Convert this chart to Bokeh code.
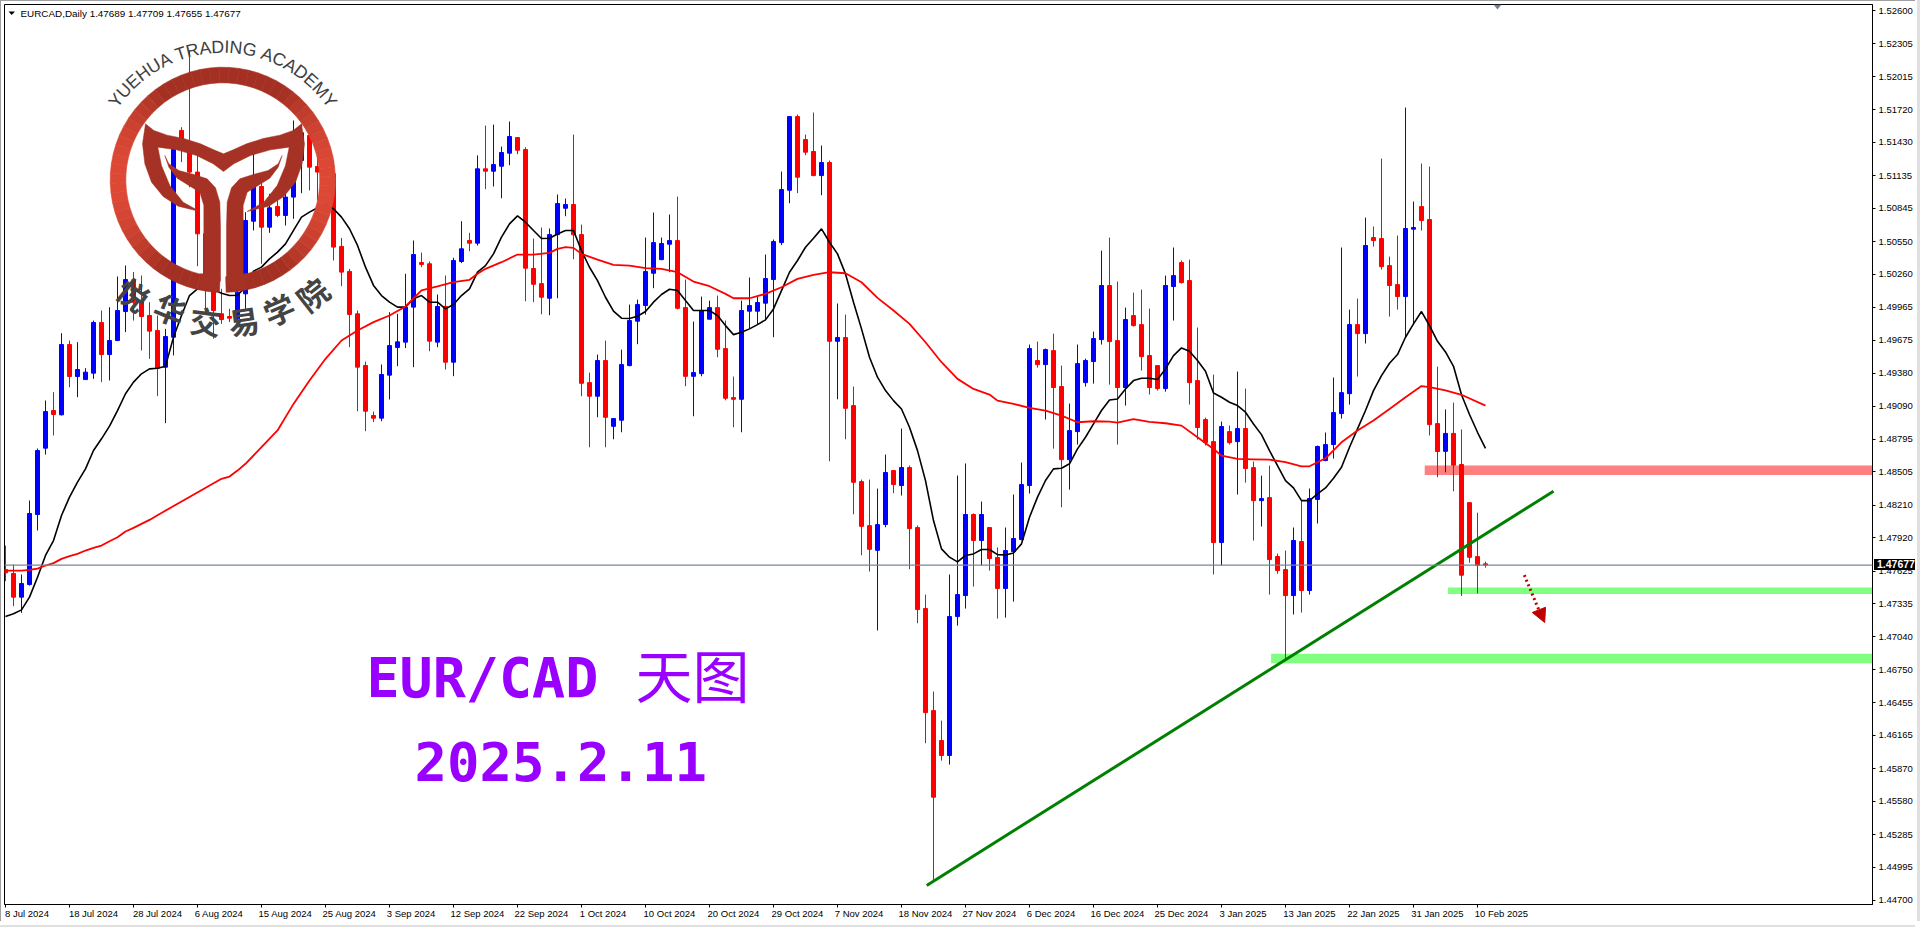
import math
from bokeh.plotting import figure
from bokeh.layouts import column
from bokeh.models import Range1d, FixedTicker, NumeralTickFormatter, Span, ColumnDataSource, Div
from bokeh.core.properties import value
from bokeh.embed import file_html
from bokeh.resources import INLINE

opens = [1.47638,1.47603,1.47393,1.47505,1.48127,1.48716,1.49050,1.49012,1.49636,1.49352,
1.49325,1.49382,1.49832,1.49547,1.49672,1.49929,1.50210,1.50012,1.49894,1.49761,
1.49435,1.49701,1.51537,1.51353,1.51167,1.50619,1.50122,1.49909,1.49885,1.49864,
1.50086,1.50731,1.51039,1.50678,1.50862,1.50782,1.50945,1.51270,1.51492,1.51217,
1.51167,1.51152,1.50507,1.50285,1.49909,1.49450,1.49006,1.48982,1.49364,1.49610,
1.49657,1.49968,1.50364,1.50353,1.49657,1.49974,1.49479,1.50373,1.50560,1.50536,
1.51196,1.51175,1.51219,1.51335,1.51474,1.51367,1.50311,1.50177,1.50047,1.50612,
1.50846,1.50879,1.50612,1.49298,1.49177,1.49494,1.48910,1.48964,1.49449,1.49843,
1.49982,1.50269,1.50390,1.50527,1.50559,1.49964,1.49354,1.49378,1.49861,1.49964,
1.49600,1.49165,1.49150,1.49932,1.49932,1.50003,1.50213,1.50541,1.51006,1.51660,
1.51456,1.51350,1.51136,1.51252,1.49665,1.49698,1.49094,1.48419,1.48028,1.47809,
1.48038,1.48517,1.48384,1.48544,1.48011,1.47292,1.46386,1.46120,1.45987,1.47221,
1.47407,1.48127,1.47896,1.48011,1.47745,1.47470,1.47798,1.47905,1.48384,1.49494,
1.49458,1.49582,1.49263,1.48614,1.48863,1.49298,1.49485,1.49680,1.50160,1.49671,
1.49254,1.49893,1.49813,1.49538,1.49449,1.49245,1.50151,1.50364,1.50204,1.49316,
1.48970,1.48774,1.47878,1.48863,1.48774,1.48890,1.48543,1.48250,1.48277,1.47754,
1.47638,1.47407,1.47887,1.47452,1.48260,1.48606,1.48748,1.49023,1.49200,1.49813,
1.49733,1.50586,1.50577,1.50337,1.50168,1.50062,1.50660,1.50861,1.50746,1.48934,
1.48688,1.48847,1.48571,1.48232,1.47753,1.47689]

closes = [1.47609,1.47393,1.47514,1.48136,1.48695,1.49041,1.49015,1.49636,1.49352,1.49414,
1.49391,1.49832,1.49547,1.49672,1.49938,1.50213,1.50012,1.49885,1.49755,1.49426,
1.49707,1.51368,1.51433,1.51167,1.50619,1.50122,1.49938,1.49858,1.49870,1.50101,
1.50737,1.51039,1.50678,1.50850,1.50782,1.50945,1.51270,1.51516,1.51211,1.51167,
1.51137,1.50501,1.50279,1.49903,1.49435,1.49044,1.48982,1.49370,1.49627,1.49660,
1.49968,1.50435,1.50347,1.49666,1.49974,1.49479,1.50382,1.50486,1.50536,1.51196,
1.51175,1.51234,1.51341,1.51483,1.51361,1.50314,1.50171,1.50056,1.50612,1.50888,
1.50879,1.50610,1.49292,1.49177,1.49494,1.48990,1.48979,1.49458,1.49849,1.49991,
1.50284,1.50541,1.50533,1.50559,1.49958,1.49354,1.49387,1.49938,1.49964,1.49594,
1.49159,1.49150,1.49938,1.49982,1.50009,1.50222,1.50550,1.51012,1.51660,1.51122,
1.51344,1.51136,1.51252,1.49665,1.49698,1.49070,1.48413,1.48022,1.47818,1.48037,
1.48500,1.48393,1.48544,1.48002,1.47283,1.46368,1.45617,1.45987,1.47221,1.47416,
1.48127,1.47896,1.48127,1.47736,1.47470,1.47807,1.47914,1.48393,1.49600,1.49458,
1.49591,1.49254,1.48614,1.48872,1.49467,1.49494,1.49689,1.50160,1.49662,1.49254,
1.49858,1.49804,1.49529,1.49254,1.49245,1.50160,1.50248,1.50186,1.49298,1.48899,
1.48765,1.47878,1.48908,1.48765,1.48890,1.48535,1.48250,1.48268,1.47727,1.47629,
1.47407,1.47896,1.47452,1.48269,1.48731,1.48748,1.49032,1.49209,1.49813,1.49733,
1.50515,1.50559,1.50328,1.50160,1.50062,1.50666,1.50675,1.50737,1.48925,1.48686,
1.48847,1.48565,1.47588,1.47747,1.47674,1.47677]

highs = [1.47851,1.47683,1.47594,1.48251,1.48713,1.49139,1.49213,1.49737,1.49672,1.49657,
1.49426,1.49849,1.49938,1.49968,1.50240,1.50338,1.50279,1.50249,1.50012,1.49894,
1.49775,1.51389,1.51566,1.52247,1.51329,1.50767,1.50175,1.50131,1.49953,1.50145,
1.50811,1.51344,1.51078,1.50974,1.50915,1.51196,1.51625,1.51590,1.51507,1.51300,
1.51241,1.51270,1.50583,1.50308,1.49938,1.49485,1.49041,1.49459,1.49923,1.49909,
1.50264,1.50560,1.50453,1.50373,1.50080,1.50249,1.50406,1.50731,1.50628,1.51315,
1.51580,1.51589,1.51394,1.51616,1.51474,1.51388,1.50577,1.50675,1.50666,1.50968,
1.50932,1.51500,1.50701,1.49387,1.49547,1.49671,1.48979,1.49591,1.49991,1.50035,
1.50586,1.50808,1.50586,1.50790,1.50950,1.50213,1.49840,1.50062,1.50026,1.50071,
1.49849,1.49352,1.50026,1.50231,1.50071,1.50435,1.50568,1.51172,1.51660,1.51678,
1.51500,1.51696,1.51403,1.51270,1.50000,1.49902,1.49263,1.48437,1.48437,1.48357,
1.48659,1.48517,1.48890,1.48562,1.48029,1.47416,1.46555,1.46297,1.47594,1.48473,
1.48580,1.48136,1.48242,1.48011,1.47834,1.48011,1.48304,1.48588,1.49636,1.49662,
1.49600,1.49733,1.49449,1.49112,1.49636,1.49511,1.49751,1.50470,1.50586,1.50195,
1.49964,1.50097,1.50124,1.49955,1.49449,1.50248,1.50497,1.50382,1.50390,1.49787,
1.48987,1.49369,1.48952,1.48917,1.49396,1.49245,1.48597,1.48472,1.48561,1.47780,
1.47807,1.48011,1.48251,1.48358,1.48739,1.48855,1.49343,1.50497,1.49946,1.50044,
1.50763,1.50684,1.51287,1.50417,1.50604,1.51740,1.50906,1.51243,1.51216,1.49440,
1.49060,1.49120,1.48882,1.48232,1.48143,1.47709]

lows = [1.47535,1.47313,1.47253,1.47496,1.47985,1.48659,1.48828,1.49006,1.49257,1.49169,
1.49325,1.49331,1.49302,1.49317,1.49666,1.49746,1.49849,1.49583,1.49509,1.49178,
1.48938,1.49539,1.51255,1.51033,1.50332,1.49953,1.49687,1.49820,1.49835,1.49849,
1.49953,1.50649,1.50353,1.50628,1.50767,1.50693,1.50752,1.50980,1.51004,1.50915,
1.50945,1.50382,1.50154,1.49613,1.49044,1.48867,1.48947,1.48955,1.49148,1.49444,
1.49604,1.49435,1.50323,1.49577,1.49613,1.49414,1.49355,1.50359,1.50465,1.50515,
1.51015,1.51039,1.50935,1.51228,1.51326,1.50020,1.50012,1.49905,1.49896,1.50047,
1.50775,1.50393,1.49177,1.48724,1.48990,1.48724,1.48795,1.48857,1.49443,1.49639,
1.49902,1.50136,1.50385,1.50278,1.49949,1.49266,1.48999,1.49354,1.49858,1.49523,
1.49141,1.48902,1.48857,1.49781,1.49816,1.49852,1.49701,1.50518,1.50891,1.50980,
1.51317,1.51130,1.50962,1.48600,1.49150,1.48795,1.48129,1.47765,1.47620,1.47097,
1.48014,1.48316,1.48295,1.47641,1.47162,1.46096,1.44877,1.45942,1.45907,1.47141,
1.47292,1.47487,1.47674,1.47629,1.47203,1.47212,1.47354,1.47896,1.48313,1.49431,
1.48970,1.48712,1.48191,1.48348,1.48748,1.49263,1.49289,1.49636,1.49280,1.48748,
1.49094,1.49796,1.49405,1.49192,1.49227,1.49218,1.49849,1.50177,1.49103,1.48792,
1.48739,1.47594,1.47674,1.48748,1.48304,1.48410,1.47895,1.48020,1.47416,1.47600,
1.46845,1.47239,1.47256,1.47416,1.48047,1.48600,1.48623,1.48979,1.49103,1.49352,
1.49645,1.50506,1.50302,1.49884,1.49946,1.49701,1.49819,1.50648,1.48828,1.48458,
1.48501,1.48333,1.47404,1.47699,1.47426,1.47655]

ma_black = [1.47221,1.47245,1.47280,1.47393,1.47570,1.47763,1.47896,1.48118,1.48281,1.48414,
1.48532,1.48695,1.48799,1.48912,1.49050,1.49199,1.49302,1.49376,1.49420,1.49426,
1.49444,1.49701,1.49894,1.50071,1.50131,1.50125,1.50122,1.50092,1.50071,1.50074,
1.50145,1.50287,1.50323,1.50397,1.50456,1.50530,1.50649,1.50767,1.50812,1.50850,
1.50886,1.50841,1.50767,1.50664,1.50516,1.50323,1.50161,1.50071,1.50012,1.49968,
1.49968,1.50042,1.50071,1.50012,1.50012,1.49953,1.49991,1.50071,1.50131,1.50279,
1.50337,1.50441,1.50589,1.50707,1.50778,1.50722,1.50648,1.50577,1.50580,1.50618,
1.50648,1.50648,1.50470,1.50322,1.50204,1.50056,1.49932,1.49870,1.49867,1.49887,
1.49929,1.50012,1.50080,1.50127,1.50115,1.50026,1.49938,1.49938,1.49938,1.49893,
1.49804,1.49724,1.49745,1.49775,1.49813,1.49855,1.49952,1.50115,1.50278,1.50382,
1.50500,1.50580,1.50663,1.50544,1.50441,1.50263,1.50012,1.49775,1.49523,1.49346,
1.49227,1.49138,1.49064,1.48902,1.48694,1.48428,1.48073,1.47822,1.47748,1.47706,
1.47763,1.47777,1.47816,1.47816,1.47771,1.47768,1.47786,1.47866,1.48103,1.48281,
1.48429,1.48532,1.48538,1.48577,1.48710,1.48813,1.48932,1.49050,1.49144,1.49153,
1.49242,1.49316,1.49337,1.49337,1.49325,1.49420,1.49538,1.49606,1.49576,1.49494,
1.49399,1.49206,1.49168,1.49124,1.49094,1.49035,1.48931,1.48836,1.48694,1.48561,
1.48428,1.48363,1.48250,1.48250,1.48310,1.48363,1.48449,1.48546,1.48724,1.48887,
1.49050,1.49227,1.49360,1.49470,1.49547,1.49701,1.49819,1.49929,1.49804,1.49665,
1.49570,1.49443,1.49190,1.49015,1.48857,1.48714]

ma_red_bar = [0,2,3,4,5,6,7,8,9,10,11,12,13,14,15,16,17,18,19,27,28,29,30,32,34,36,38,40,42,44,46,48,50,52,54,56,58,59,
60,62,64,66,68,69,70,71,72,74,76,78,80,82,84,86,88,90,91,93,95,97,99,101,103,105,107,109,111,113,115,117,119,
121,123,124,126,128,130,132,134,136,138,139,141,143,145,147,149,151,152,154,156,158,160,162,163,165,167,169,171,173,175,177,178,180,182,185]
ma_red = [1.47629,1.47629,1.47635,1.47647,1.47674,1.47695,1.47733,1.47757,1.47777,1.47807,1.47831,1.47851,1.47890,1.47925,1.47976,1.48008,1.48044,1.48079,1.48121,
1.48444,1.48464,1.48517,1.48577,1.48725,1.48873,1.49109,1.49317,1.49509,1.49672,1.49761,1.49835,1.49894,1.49974,1.50116,1.50152,1.50190,1.50211,1.50264,
1.50308,1.50367,1.50435,1.50435,1.50450,1.50485,1.50500,1.50494,1.50441,1.50390,1.50343,1.50337,1.50314,1.50308,1.50278,1.50195,1.50154,1.50086,1.50047,1.50047,1.50086,1.50145,1.50219,1.50255,1.50278,1.50269,1.50189,1.50050,1.49938,1.49819,1.49656,1.49479,1.49331,
1.49242,1.49192,1.49138,1.49109,1.49073,1.49050,1.49005,1.48946,1.48955,1.48952,1.48943,1.48973,1.48949,1.48937,1.48916,1.48813,1.48709,1.48650,1.48620,1.48617,1.48614,1.48591,1.48555,1.48555,1.48626,1.48768,1.48872,1.48961,1.49064,1.49168,1.49267,1.49257,1.49228,1.49190,1.49094]

price_ticks = [1.52600,1.52305,1.52015,1.51720,1.51430,1.51135,1.50845,1.50550,1.50260,1.49965,1.49675,1.49380,1.49090,1.48795,
1.48505,1.48210,1.47920,1.47625,1.47335,1.47040,1.46750,1.46455,1.46165,1.45870,1.45580,1.45285,1.44995,1.44700]
date_labels = ["8 Jul 2024","18 Jul 2024","28 Jul 2024","6 Aug 2024","15 Aug 2024","25 Aug 2024","3 Sep 2024","12 Sep 2024",
"22 Sep 2024","1 Oct 2024","10 Oct 2024","20 Oct 2024","29 Oct 2024","7 Nov 2024","18 Nov 2024","27 Nov 2024","6 Dec 2024",
"16 Dec 2024","25 Dec 2024","3 Jan 2025","13 Jan 2025","22 Jan 2025","31 Jan 2025","10 Feb 2025"]
date_bars = [8*k for k in range(len(date_labels))]

last_price = 1.47677
resistance_zone = dict(left=177.4, right=233.4, bottom=1.48477, top=1.48562)
support_zones = [dict(left=180.3, right=233.4, bottom=1.47421, top=1.47478),
                 dict(left=158.2, right=233.4, bottom=1.46807, top=1.46890)]
trend_bars, trend_prices = [115.15, 193.5], [1.44833, 1.48334]
arrow_bars, arrow_prices = [189.85, 191.8], [1.47589, 1.47257]
arrow_head_bars, arrow_head_prices = [192.4, 190.85, 192.5], [1.47168, 1.47257, 1.47303]

X_PER_BAR, X0 = 8.0, 5.0
Y_PER_UNIT, Y_TOP, P_TOP = 11263.0, 10.2, 1.526
def dx(px): return (px - X0) / X_PER_BAR
def dy(py): return P_TOP - (py - Y_TOP) / Y_PER_UNIT

p = figure(frame_width=1868, frame_height=900, output_backend="svg", toolbar_location=None,
           x_range=Range1d(dx(4), dx(1872)), y_range=Range1d(dy(904), dy(4)),
           y_axis_location="right", min_border_left=4, min_border_top=4, min_border_right=0, min_border_bottom=0,
           background_fill_color="white", border_fill_color="white")
p.grid.visible = False
p.outline_line_color = "black"

# axes
yaxis = p.yaxis[0]
yaxis.ticker = FixedTicker(ticks=price_ticks)
yaxis.formatter = NumeralTickFormatter(format="0.00000")
yaxis.major_label_text_font = "Liberation Sans"
yaxis.major_label_text_font_size = "9.5px"
yaxis.major_label_text_color = "black"
yaxis.major_tick_in = 0
yaxis.major_tick_out = 3
yaxis.major_label_standoff = 3
yaxis.minor_tick_line_color = None
yaxis.axis_line_color = "black"

xaxis = p.xaxis[0]
shifted, overrides = [], {}
for b, lab in zip(date_bars, date_labels):
    half = len(lab) * 4.9 / 2
    pos = round(b + (half - 3) / X_PER_BAR, 3)
    shifted.append(pos)
    overrides[pos] = lab
xaxis.ticker = FixedTicker(ticks=shifted, minor_ticks=date_bars)
xaxis.major_label_overrides = overrides
xaxis.major_tick_line_color = None
xaxis.major_tick_in = 0
xaxis.major_tick_out = 0
xaxis.minor_tick_in = 0
xaxis.minor_tick_out = 3
xaxis.minor_tick_line_color = "black"
xaxis.major_label_standoff = 0
xaxis.major_label_text_font = "Liberation Sans"
xaxis.major_label_text_font_size = "9.5px"
xaxis.major_label_text_color = "black"
xaxis.axis_line_color = "black"

# zones
for z, col in [(resistance_zone, "#FF8080"), (support_zones[0], "#80FF80"), (support_zones[1], "#80FF80")]:
    p.quad(left=[z["left"]], right=[z["right"]], bottom=[z["bottom"]], top=[z["top"]], fill_color=col, line_color=None)

p.add_layout(Span(location=last_price, dimension="width", line_color="#778899", line_width=1.2))

# candles
bars = list(range(len(opens)))
colors = ["#0000FF" if c > o else "#FF0000" for o, c in zip(opens, closes)]
src = ColumnDataSource(dict(x=bars, o=opens, c=closes, h=highs, l=lows, col=colors,
                            t=[max(a, b) for a, b in zip(opens, closes)],
                            b=[min(a, b) for a, b in zip(opens, closes)]))
p.segment(x0="x", y0="l", x1="x", y1="h", line_color="col", line_width=1, source=src)
p.vbar(x="x", width=4 / X_PER_BAR, top="t", bottom="b", fill_color="col", line_color="col", line_width=1, source=src)

# moving averages, trend line, arrow
p.line(bars, ma_black, line_color="black", line_width=1.6)
p.line(ma_red_bar, ma_red, line_color="#FF0000", line_width=1.8)
p.line(trend_bars, trend_prices, line_color="#008000", line_width=3)
p.line(arrow_bars, arrow_prices, line_color="#C00000", line_width=3, line_dash="2 3")
p.patch(arrow_head_bars, arrow_head_prices, fill_color="#C00000", line_color="#C00000")

# chart caption
p.text([dx(366)], [dy(677)], text=["EUR/CAD"], text_font=value("DejaVu Sans Mono"), text_font_style="bold",
       text_font_size="55px", text_color="#9900FF", text_baseline="middle")
p.text([dx(635)], [dy(672)], text=["天图"], text_font=value("Noto Sans CJK SC"),
       text_font_size="57px", text_color="#9900FF", text_baseline="middle")
p.text([dx(414)], [dy(761)], text=["2025.2.11"], text_font=value("DejaVu Sans Mono"), text_font_style="bold",
       text_font_size="54px", text_color="#9900FF", text_baseline="middle")

# header
p.text([dx(20)], [dy(12.7)], text=["EURCAD,Daily  1.47689 1.47709 1.47655 1.47677"], text_font=value("Liberation Sans"),
       text_font_size="9.9px", text_color="black", text_baseline="middle")
p.patch([dx(8), dx(14.5), dx(11.2)], [dy(11), dy(11), dy(14.5)], fill_color="black", line_color=None)
p.patch([dx(1493), dx(1501), dx(1497)], [dy(4), dy(4), dy(9)], fill_color="#708090", line_color=None)

# logo
CX, CY, R_OUT, R_IN = 222.3, 179.3, 112.6, 97.0
def lerp_col(t):
    a, b = (0xA3, 0x30, 0x22), (0xDE, 0x49, 0x36)
    return "#%02x%02x%02x" % tuple(int(a[i] + (b[i] - a[i]) * t) for i in range(3))
deg = -90 + 1.7
while deg < 270 - 1.7:
    e = min(deg + 5, 270 - 1.7)
    m = math.radians((deg + e) / 2)
    col = lerp_col(max(0.0, (abs(math.cos(m)) - 0.55) / 0.45))
    a0, a1 = math.radians(deg), math.radians(e)
    pts = [(CX + R_OUT * math.cos(a0), CY - R_OUT * math.sin(a0)), (CX + R_OUT * math.cos(a1), CY - R_OUT * math.sin(a1)),
           (CX + R_IN * math.cos(a1), CY - R_IN * math.sin(a1)), (CX + R_IN * math.cos(a0), CY - R_IN * math.sin(a0))]
    p.patch([dx(q[0]) for q in pts], [dy(q[1]) for q in pts], fill_color=col, line_color=col, line_width=0.6)
    deg = e

def lx(z): return dx(100 + z / 3)
def ly(z): return dy(110 + z / 3)
band = [(135,40),(160,60),(200,74),(250,84),(300,100),(340,118),(369,130),(398,118),(438,100),(488,84),(538,74),(578,60),(603,40),
        (612,100),(605,160),(585,215),(550,258),(505,287),(440,303),(490,275),(530,225),(555,165),(566,110),
        (510,118),(450,135),(400,160),(369,183),(338,160),(288,135),(228,118),(172,110),
        (183,165),(208,225),(248,275),(298,303),(233,287),(188,258),(153,215),(133,160),(126,100)]
stem = [(193,135),(205,160),(235,180),(280,192),(320,205),(345,232),(358,275),(360,350),(360,510),(350,530),(330,542),(300,535),
        (300,490),(310,490),(310,285),(298,245),(265,225),(230,203),(205,170)]
for shape in (band, stem, [(738 - a, b) for a, b in stem]):
    p.patch([lx(a) for a, b in shape], [ly(b) for a, b in shape], fill_color="#A53224", line_color="#A53224", line_width=0.5)

arc_text = "YUEHUA TRADING ACADEMY"
adv = dict(Y=.667,U=.722,E=.667,H=.722,A=.667,T=.611,R=.722,D=.722,I=.278,N=.722,G=.778,C=.722,M=.833)
adv[" "] = .278
fs, r_base = 17.8, 133.0
total = sum(adv[c] for c in arc_text) * fs
s = 0.0
for c in arc_text:
    w = adv[c] * fs
    th = (s + w / 2 - total / 2) / (r_base - 4)
    s += w
    if c == " ":
        continue
    p.text([dx(CX + r_base * math.sin(th))], [dy(CY - r_base * math.cos(th))], text=[c], angle=[-th],
           text_font=value("Liberation Sans"), text_font_size="17.8px", text_color="#404040",
           text_align="center", text_baseline="middle")

cjk = ["悦", "华", "交", "易", "学", "院"]
cjk_x = [133.3, 170, 205, 243.3, 278.3, 311.7]
cjk_y = [293.3, 308.3, 320, 320, 308.3, 293.3]
cjk_rot = [-38, -22, -7, 8, 23, 38]
for c, a, b, r in zip(cjk, cjk_x, cjk_y, cjk_rot):
    p.text([dx(a)], [dy(b)], text=[c], angle=[math.radians(r)], text_font=value("Noto Sans CJK SC"),
           text_font_style="bold", text_font_size="31px", text_color="#444444",
           text_align="center", text_baseline="middle")

# current price box and the window edges sit outside the plot frame
def overlay(left, top, w, h, color, text=""):
    return Div(text=text, width=w, height=h, margin=0,
               styles={"position": "absolute", "left": f"{left}px", "top": f"{top}px", "background-color": color,
                       "color": "white", "font": "bold 10.5px 'Liberation Sans'", "line-height": f"{h}px",
                       "padding-left": "3px" if text else "0", "box-sizing": "border-box", "overflow": "hidden"})
y_last = Y_TOP + (P_TOP - last_price) * Y_PER_UNIT
layers = [overlay(1874, round(y_last - 5.5), 41, 11, "black", "%.5f" % last_price),
          overlay(0, 0, 1920, 1, "#A0A0A0"), overlay(0, 0, 1, 927, "#A0A0A0"),
          overlay(0, 925, 1920, 2, "#E0E0E0"), overlay(1917, 0, 3, 927, "#E0E0E0")]

open("out.html", "w").write(file_html(column(p, *layers), INLINE))
